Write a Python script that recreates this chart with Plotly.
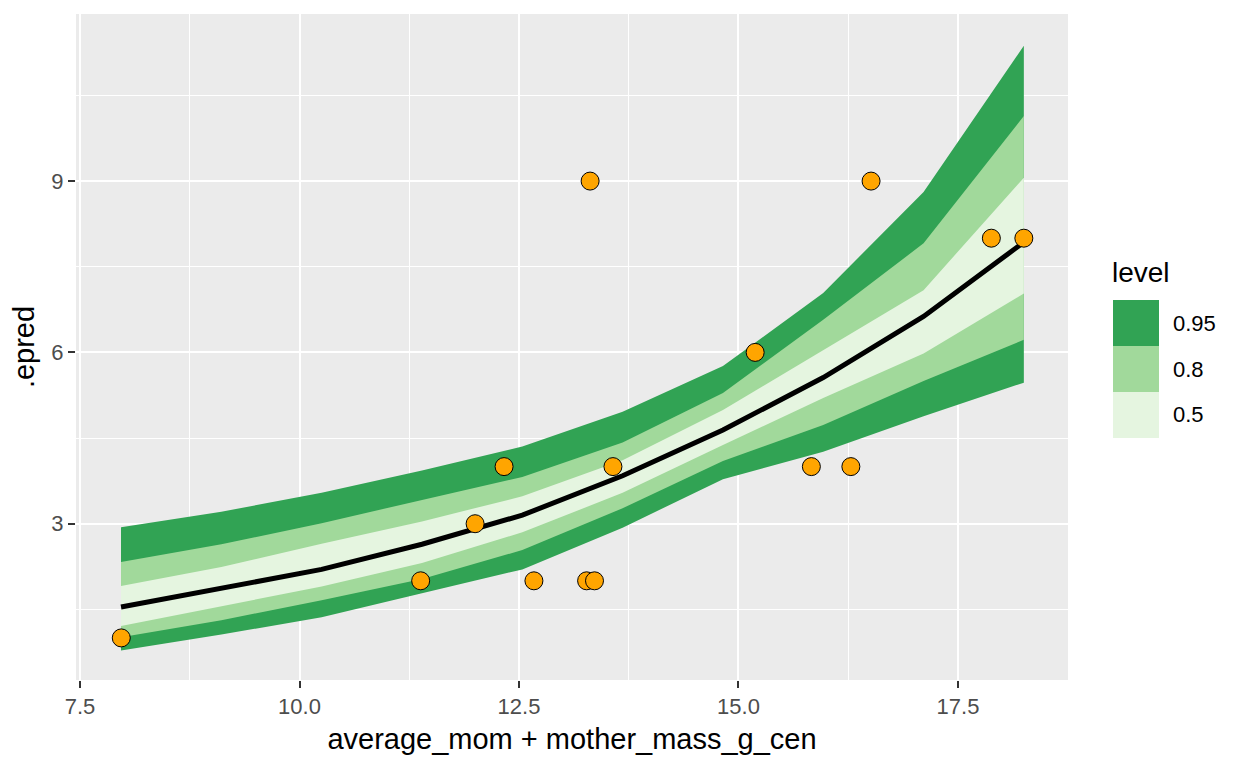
import plotly.graph_objects as go

# ---- data ----
grid_x = [7.967, 9.110, 10.252, 11.395, 12.538, 13.680, 14.823, 15.965, 17.108, 18.250]
epred_median = [1.54, 1.88, 2.20, 2.64, 3.15, 3.84, 4.64, 5.56, 6.63, 7.93]
lower_50 = [1.21, 1.55, 1.90, 2.31, 2.85, 3.54, 4.38, 5.20, 5.98, 7.03]
upper_50 = [1.91, 2.24, 2.65, 3.04, 3.48, 4.11, 4.99, 6.04, 7.09, 9.06]
lower_80 = [1.01, 1.31, 1.66, 2.03, 2.54, 3.27, 4.10, 4.73, 5.50, 6.22]
upper_80 = [2.33, 2.64, 3.01, 3.42, 3.82, 4.42, 5.29, 6.57, 7.91, 10.14]
lower_95 = [0.78, 1.06, 1.36, 1.78, 2.20, 2.93, 3.78, 4.26, 4.88, 5.47]
upper_95 = [2.94, 3.21, 3.54, 3.93, 4.35, 4.96, 5.76, 7.04, 8.81, 11.37]

obs_x = [7.97, 11.38, 12.00, 12.33, 12.67, 13.31, 13.27, 13.36, 13.57,
         15.19, 15.83, 16.28, 16.51, 17.88, 18.25]
obs_y = [1, 2, 3, 4, 2, 9, 2, 2, 4, 6, 4, 4, 9, 8, 8]

levels = ["0.95", "0.8", "0.5"]
level_colors = ["#31A354", "#A1D99B", "#E5F5E0"]
bands = [(lower_95, upper_95), (lower_80, upper_80), (lower_50, upper_50)]

x_ticks = [7.5, 10.0, 12.5, 15.0, 17.5]
y_ticks = [3, 6, 9]

# ---- figure ----
FONT = "Liberation Sans, Arial, sans-serif"
OFF = 8                       # page body margin
W, H = 1248 - OFF, 768 - OFF
# panel box in screen pixels
SL, SR, ST, SB = 76, 1068, 14, 680
L, R, T, B = SL - OFF, SR - OFF, ST - OFF, SB - OFF

fig = go.Figure()

for name, col, (lo, hi) in zip(levels, level_colors, bands):
    fig.add_trace(go.Scatter(
        x=grid_x + grid_x[::-1],
        y=hi + lo[::-1],
        fill="toself", fillcolor=col, mode="lines",
        line=dict(width=0, color=col), name=name,
        hoverinfo="skip", showlegend=False))

fig.add_trace(go.Scatter(
    x=grid_x, y=epred_median, mode="lines",
    line=dict(color="black", width=5), showlegend=False))

fig.add_trace(go.Scatter(
    x=obs_x, y=obs_y, mode="markers",
    marker=dict(size=18, color="#FFA500", line=dict(color="black", width=1)),
    showlegend=False))

# ---- manual ggplot-style legend (positions in screen px) ----
def px_x(px):
    return (px - SL) / (SR - SL)

def px_y(py):
    return (SB - py) / (SB - ST)

key_left, key_right = 1113, 1159
key_top, key_h = 300, 46
shapes = []
annotations = []
for i, (name, col) in enumerate(zip(levels, level_colors)):
    y0 = key_top + i * key_h
    shapes.append(dict(type="rect", xref="paper", yref="paper",
                       x0=px_x(key_left), x1=px_x(key_right),
                       y0=px_y(y0 + key_h), y1=px_y(y0),
                       fillcolor=col, line=dict(width=0), layer="above"))
    annotations.append(dict(xref="paper", yref="paper", x=px_x(1171), y=px_y(y0 + key_h / 2),
                            text=name, showarrow=False, xanchor="left", yanchor="middle",
                            font=dict(family=FONT, size=22, color="black")))
annotations.append(dict(xref="paper", yref="paper", x=px_x(1110), y=px_y(273),
                        text="level", showarrow=False, xanchor="left", yanchor="middle",
                        font=dict(family=FONT, size=28, color="black")))

fig.update_layout(
    width=W, height=H, autosize=False,
    margin=dict(l=L, r=W - R, t=T, b=H - B, pad=0),
    paper_bgcolor="white", plot_bgcolor="#EBEBEB",
    font=dict(family=FONT),
    shapes=shapes, annotations=annotations,
    showlegend=False,
    xaxis=dict(
        range=[7.4544, 18.753], tickmode="array", tickvals=x_ticks,
        ticktext=[f"{v:.1f}" for v in x_ticks],
        ticks="outside", ticklen=7, tickwidth=2, tickcolor="#333333",
        tickfont=dict(family=FONT, size=22, color="#4D4D4D"),
        showgrid=True, gridcolor="white", gridwidth=2, zeroline=False, showline=False,
        minor=dict(tickvals=[8.75, 11.25, 13.75, 16.25, 18.75], showgrid=True,
                   gridcolor="white", gridwidth=1, ticks=""),
        title=dict(text="average_mom + mother_mass_g_cen", standoff=10,
                   font=dict(family=FONT, size=29, color="black")),
    ),
    yaxis=dict(
        range=[0.263, 11.926], tickmode="array", tickvals=y_ticks,
        ticktext=[str(v) for v in y_ticks],
        ticks="outside", ticklen=7, tickwidth=2, tickcolor="#333333",
        tickfont=dict(family=FONT, size=22, color="#4D4D4D"),
        showgrid=True, gridcolor="white", gridwidth=2, zeroline=False, showline=False,
        minor=dict(tickvals=[1.5, 4.5, 7.5, 10.5], showgrid=True,
                   gridcolor="white", gridwidth=1, ticks=""),
        title=dict(text=".epred", standoff=8,
                   font=dict(family=FONT, size=29, color="black")),
    ),
)

fig.write_html("out.html")
